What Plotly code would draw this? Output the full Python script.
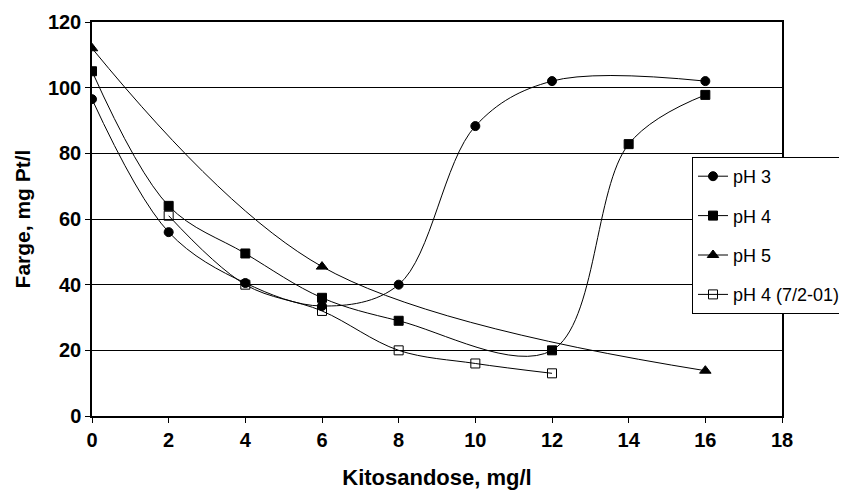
import plotly.graph_objects as go

x_ph3 = [0, 2, 4, 6, 8, 10, 12, 16]
y_ph3 = [96.5, 56, 40.5, 33.5, 40, 88.3, 102, 102]
x_ph4 = [0, 2, 4, 6, 8, 12, 14, 16]
y_ph4 = [105, 64, 49.5, 36, 29, 20, 82.8, 97.8]
x_ph5 = [0, 6, 16]
y_ph5 = [112, 45.5, 13.8]
x_ph4b = [2, 4, 6, 8, 10, 12]
y_ph4b = [61, 40, 32, 20, 16, 13]

FONT = "Liberation Sans, Arial, sans-serif"

fig = go.Figure()
series = [
    ("pH 3", x_ph3, y_ph3, "circle", "black", 9),
    ("pH 4", x_ph4, y_ph4, "square", "black", 9),
    ("pH 5", x_ph5, y_ph5, "triangle-up", "black", 10),
    ("pH 4 (7/2-01)", x_ph4b, y_ph4b, "square-open", "black", 9),
]
for name, xs, ys, sym, col, sz in series:
    fig.add_trace(go.Scatter(
        x=xs, y=ys, name=name, mode="lines+markers", legendgroup=name,
        line=dict(color="black", width=1, shape="spline", smoothing=1.0),
        marker=dict(symbol=sym, size=sz, color=col,
                    line=dict(color="black", width=1)),
    ))

fig.update_layout(
    width=839, height=483,
    margin=dict(l=84, r=65, t=14, b=75, autoexpand=False),
    paper_bgcolor="white", plot_bgcolor="white",
    font=dict(family=FONT, color="black"),
    showlegend=True,
    legend=dict(
        x=684 / 839, y=1 - 149 / 483, xref="container", yref="container",
        xanchor="left", yanchor="top",
        bgcolor="white", bordercolor="black", borderwidth=1,
        font=dict(size=18, family=FONT),
        tracegroupgap=13, traceorder="grouped", itemwidth=30,
    ),
    xaxis=dict(
        range=[0, 18], dtick=2, tick0=0, automargin=False,
        showgrid=False, zeroline=False,
        showline=True, linecolor="black", linewidth=1.5, mirror=True,
        ticks="outside", ticklen=5, tickcolor="black",
        tickfont=dict(size=20, family=FONT, weight="bold"),
        title=dict(text="<b>Kitosandose, mg/l</b>", font=dict(size=22, family=FONT), standoff=20),
    ),
    yaxis=dict(
        range=[0, 120], dtick=20, tick0=0, automargin=False,
        showgrid=True, gridcolor="black", gridwidth=1, zeroline=False,
        showline=True, linecolor="black", linewidth=1.5, mirror=True,
        ticks="outside", ticklen=5, tickcolor="black",
        tickfont=dict(size=20, family=FONT, weight="bold"),
        title=dict(text="<b>Farge, mg Pt/l</b>", font=dict(size=21, family=FONT), standoff=12),
    ),
)

fig.write_html("out.html")
